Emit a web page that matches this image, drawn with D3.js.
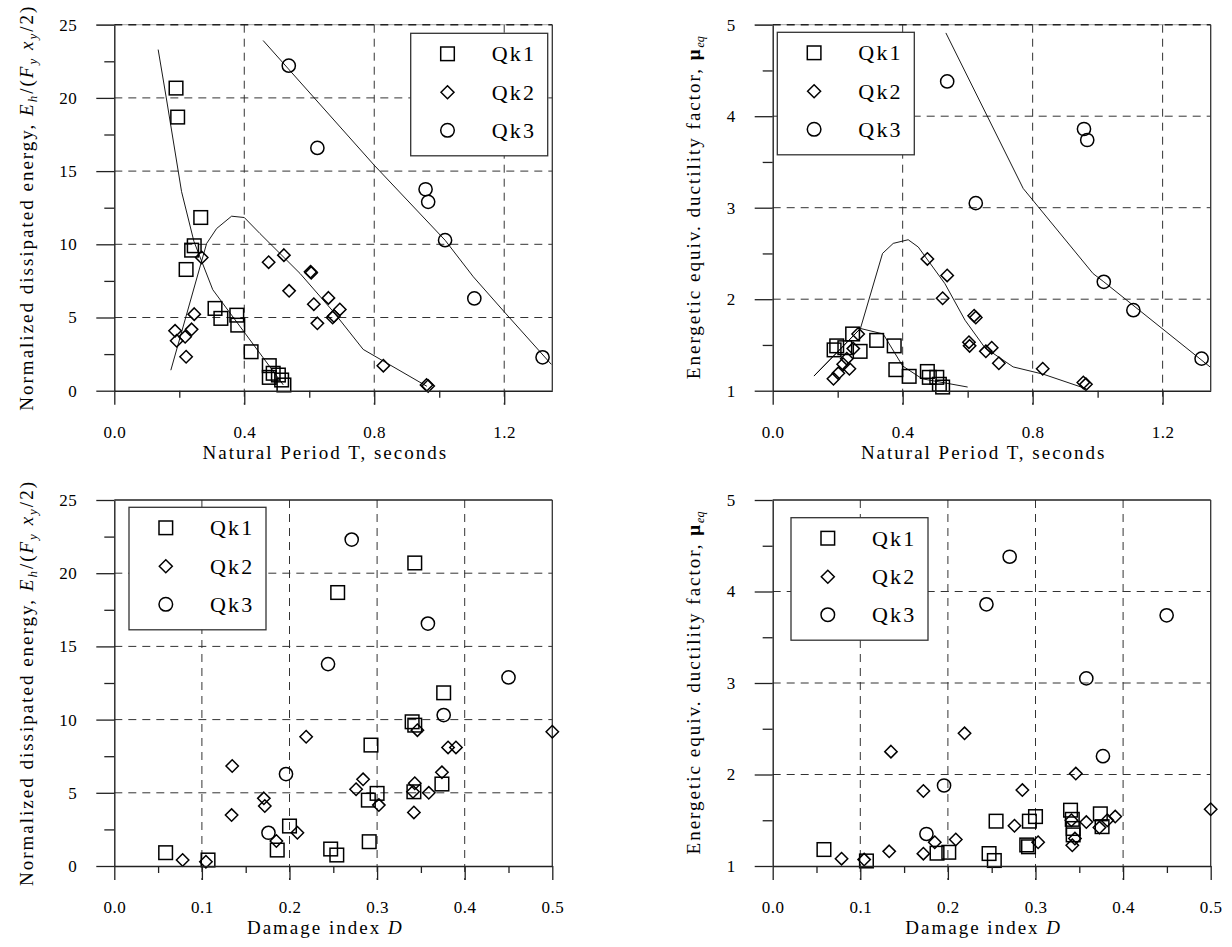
<!DOCTYPE html>
<html><head><meta charset="utf-8">
<script src="https://cdn.jsdelivr.net/npm/d3@7"></script>
<style>
body{margin:0;background:#fff}
svg{display:block}
text{font-family:"Liberation Serif","Times New Roman",serif;fill:#000}
</style>
</head><body>
<svg id="chart" width="1232" height="947"></svg>
<script>
// ---------------- data ----------------
const seriesNames = ["Qk1", "Qk2", "Qk3"];

// Panel A: natural period T vs normalized dissipated energy
const periodEnergyQk1 = [[0.190,20.67],[0.195,18.69],[0.266,11.83],[0.246,9.9],[0.238,9.6],[0.221,8.28],[0.310,5.62],[0.328,4.94],[0.377,5.16],[0.380,4.48],[0.421,2.66],[0.477,1.71],[0.477,0.91],[0.489,1.19],[0.505,1.07],[0.515,0.73],[0.522,0.39]];
const periodEnergyQk2 = [[0.269,9.10],[0.246,5.23],[0.238,4.19],[0.187,4.09],[0.192,3.41],[0.218,3.68],[0.221,2.32],[0.475,8.78],[0.522,9.26],[0.538,6.82],[0.604,8.12],[0.606,8.05],[0.614,5.91],[0.625,4.60],[0.659,6.34],[0.672,5.0],[0.676,5.1],[0.694,5.55],[0.828,1.71],[0.961,0.39],[0.966,0.32]];
const periodEnergyQk3 = [[0.537,22.2],[0.625,16.58],[0.958,13.76],[0.966,12.9],[1.018,10.28],[1.108,6.30],[1.318,2.28]];
const periodEnergyFitQk1 = [[0.135,23.3],[0.16,20.0],[0.207,13.6],[0.245,10.2],[0.303,6.9],[0.52,0.4]];
const periodEnergyFitQk2 = [[0.174,1.4],[0.284,10.05],[0.315,11.08],[0.361,11.92],[0.40,11.83],[0.448,10.74],[0.572,8.0],[0.674,5.4],[0.766,2.82],[0.962,0.3]];
const periodEnergyFitQk3 = [[0.458,23.92],[0.80,15.4],[1.018,10.28],[1.105,7.78],[1.2,5.39],[1.345,1.8]];

// Panel B: natural period T vs energetic equivalent ductility factor
const periodDuctQk1 = [[0.189,1.446],[0.197,1.49],[0.222,1.47],[0.246,1.62],[0.269,1.43],[0.32,1.55],[0.374,1.49],[0.379,1.23],[0.42,1.157],[0.476,1.21],[0.482,1.146],[0.505,1.146],[0.513,1.07],[0.523,1.04]];
const periodDuctQk2 = [[0.187,1.13],[0.202,1.19],[0.217,1.29],[0.228,1.35],[0.236,1.24],[0.248,1.46],[0.263,1.62],[0.476,2.44],[0.537,2.26],[0.523,2.01],[0.620,1.82],[0.625,1.80],[0.604,1.53],[0.606,1.49],[0.674,1.47],[0.656,1.43],[0.696,1.30],[0.831,1.24],[0.956,1.09],[0.964,1.07]];
const periodDuctQk3 = [[0.537,4.38],[0.625,3.05],[0.958,3.86],[0.968,3.74],[1.019,2.19],[1.11,1.88],[1.32,1.35]];
const periodDuctFitQk1 = [[0.127,1.16],[0.27,1.68],[0.34,1.62],[0.40,1.27],[0.46,1.13],[0.60,1.04]];
const periodDuctFitQk2 = [[0.127,1.16],[0.27,1.68],[0.338,2.5],[0.371,2.61],[0.417,2.65],[0.448,2.57],[0.53,2.17],[0.592,1.77],[0.653,1.47],[0.74,1.26],[0.833,1.18],[0.966,1.02]];
const periodDuctFitQk3 = [[0.533,4.91],[0.771,3.21],[0.986,2.28],[1.019,2.19],[1.346,1.26]];

// Panel C: damage index D vs normalized dissipated energy
const damageEnergyQk1 = [[0.0586,0.91],[0.107,0.41],[0.186,1.09],[0.200,2.73],[0.343,20.7],[0.255,18.68],[0.376,11.83],[0.340,9.85],[0.343,9.62],[0.293,8.26],[0.300,4.96],[0.290,4.5],[0.342,5.07],[0.374,5.6],[0.291,1.66],[0.247,1.16],[0.254,0.75]];
const damageEnergyQk2 = [[0.078,0.41],[0.1046,0.29],[0.1346,6.83],[0.1339,3.48],[0.1707,4.62],[0.1718,4.1],[0.185,1.71],[0.209,2.27],[0.219,8.83],[0.284,5.92],[0.276,5.24],[0.302,4.16],[0.343,5.65],[0.341,5.07],[0.342,3.66],[0.346,9.28],[0.359,5.0],[0.374,6.40],[0.381,8.10],[0.390,8.10],[0.5,9.17]];
const damageEnergyQk3 = [[0.176,2.27],[0.196,6.28],[0.271,22.3],[0.358,16.56],[0.244,13.79],[0.450,12.88],[0.376,10.31]];

// Panel D: damage index D vs energetic equivalent ductility factor
const damageDuctQk1 = [[0.0585,1.18],[0.107,1.055],[0.1876,1.14],[0.201,1.15],[0.255,1.49],[0.247,1.136],[0.253,1.06],[0.293,1.49],[0.300,1.54],[0.290,1.23],[0.292,1.21],[0.340,1.61],[0.342,1.51],[0.343,1.41],[0.343,1.34],[0.374,1.57],[0.376,1.43]];
const damageDuctQk2 = [[0.0786,1.08],[0.1044,1.07],[0.133,1.16],[0.135,2.25],[0.172,1.82],[0.172,1.135],[0.185,1.26],[0.209,1.29],[0.219,2.45],[0.285,1.83],[0.276,1.44],[0.303,1.26],[0.346,2.01],[0.341,1.50],[0.342,1.226],[0.345,1.30],[0.358,1.48],[0.373,1.42],[0.382,1.50],[0.391,1.54],[0.5,1.62]];
const damageDuctQk3 = [[0.1755,1.35],[0.1956,1.88],[0.2705,4.38],[0.244,3.86],[0.4497,3.74],[0.358,3.05],[0.377,2.20]];

// ticks
const periodTicks = [0, 0.4, 0.8, 1.2];
const periodMinor = [0.2, 0.6, 1.0];
const periodGrid = [0.4, 0.8, 1.2];
const damageTicks = [0, 0.1, 0.2, 0.3, 0.4, 0.5];
const damageMinor = [0.05, 0.15, 0.25, 0.35, 0.45];
const damageGrid = [0.1, 0.2, 0.3, 0.4];
const energyTicks = [0, 5, 10, 15, 20, 25];
const energyMinor = [2.5, 7.5, 12.5, 17.5, 22.5];
const energyGrid = [5, 10, 15, 20];
const ductTicks = [1, 2, 3, 4, 5];
const ductMinor = [1.5, 2.5, 3.5, 4.5];
const ductGrid = [2, 3, 4];

// ---------------- drawing ----------------
const svg = d3.select("#chart");
const W = 438, H = 366;

function panel(o) {
  const g = svg.append("g");
  const x = d3.scaleLinear().domain(o.xDomain).range([o.x0, o.x0 + W]);
  const y = d3.scaleLinear().domain(o.yDomain).range([o.y0 + H, o.y0]);
  const gridStyle = s => s.attr("stroke", "#333").attr("stroke-width", 1).attr("stroke-dasharray", "8,6").attr("fill", "none");

  // grid
  g.selectAll(".hg").data(o.yGrid).join("line")
    .attr("x1", o.x0).attr("x2", o.x0 + W).attr("y1", d => y(d)).attr("y2", d => y(d)).call(gridStyle);
  g.selectAll(".vg").data(o.xGrid).join("line")
    .attr("x1", d => x(d)).attr("x2", d => x(d)).attr("y1", o.y0).attr("y2", o.y0 + H + 14).call(gridStyle);

  // top & right border
  const top = o.yDomain[1];
  if (o.topDashed) {
    g.append("line").attr("x1", o.x0 - 18).attr("x2", o.x0 + W).attr("y1", y(top)).attr("y2", y(top))
      .attr("stroke", "#888").attr("stroke-width", 0.8);
    g.append("line").attr("x1", o.x0).attr("x2", o.x0 + W).attr("y1", y(top)).attr("y2", y(top))
      .attr("stroke", "#222").attr("stroke-width", 1.4).attr("stroke-dasharray", "8,6");
  } else {
    g.append("line").attr("x1", o.x0).attr("x2", o.x0 + W).attr("y1", y(top)).attr("y2", y(top))
      .attr("stroke", "#222").attr("stroke-width", 1.3);
  }
  g.append("line").attr("x1", x(o.xDomain[1])).attr("x2", x(o.xDomain[1])).attr("y1", o.y0).attr("y2", o.y0 + H)
    .attr("stroke", "#333").attr("stroke-width", 1.3);

  // fitted lines
  const line = d3.line().x(d => x(d[0])).y(d => y(d[1]));
  (o.fits || []).forEach(f => {
    g.append("path").attr("d", line(f)).attr("fill", "none").attr("stroke", "#000").attr("stroke-width", 0.9);
  });

  // symbols
  const sw = 1.5;
  g.selectAll(".sq").data(o.series[0]).join("rect")
    .attr("x", d => x(d[0]) - 6.8).attr("y", d => y(d[1]) - 6.8).attr("width", 13.6).attr("height", 13.6)
    .attr("fill", "none").attr("stroke", "#000").attr("stroke-width", sw);
  g.selectAll(".dm").data(o.series[1]).join("path")
    .attr("d", d => { const cx = x(d[0]), cy = y(d[1]), r = 6.2; return `M${cx},${cy - r}L${cx + r},${cy}L${cx},${cy + r}L${cx - r},${cy}Z`; })
    .attr("fill", "none").attr("stroke", "#000").attr("stroke-width", sw);
  g.selectAll(".ci").data(o.series[2]).join("circle")
    .attr("cx", d => x(d[0])).attr("cy", d => y(d[1])).attr("r", 6.6)
    .attr("fill", "none").attr("stroke", "#000").attr("stroke-width", sw);

  // legend
  const lx = o.x0 + o.legend[0], ly = o.y0 + o.legend[1];
  const lg = g.append("g");
  lg.append("rect").attr("x", lx).attr("y", ly).attr("width", 137).attr("height", 122.5)
    .attr("fill", "#fff").attr("stroke", "#333").attr("stroke-width", 1.3);
  const rows = [20.5, 59, 97];
  seriesNames.forEach((name, i) => {
    const cx = lx + 36.8, cy = ly + rows[i];
    if (i === 0) lg.append("rect").attr("x", cx - 6.8).attr("y", cy - 6.8).attr("width", 13.6).attr("height", 13.6)
      .attr("fill", "none").attr("stroke", "#000").attr("stroke-width", sw);
    if (i === 1) { const r = 6.5; lg.append("path").attr("d", `M${cx},${cy - r}L${cx + r},${cy}L${cx},${cy + r}L${cx - r},${cy}Z`)
      .attr("fill", "none").attr("stroke", "#000").attr("stroke-width", sw); }
    if (i === 2) lg.append("circle").attr("cx", cx).attr("cy", cy).attr("r", 6.8)
      .attr("fill", "none").attr("stroke", "#000").attr("stroke-width", sw);
    lg.append("text").attr("x", lx + 81).attr("y", cy).attr("dy", "0.34em")
      .attr("font-size", 22).attr("letter-spacing", 2.2).text(name);
  });

  // axes
  const styleAxis = a => {
    a.selectAll("path.domain").attr("stroke", "#222").attr("stroke-width", 1.4);
    a.selectAll(".tick line").attr("stroke", "#222").attr("stroke-width", 1.3);
    a.selectAll(".tick text").attr("font-family", "Liberation Serif, Times New Roman, serif")
      .attr("font-size", 17).attr("letter-spacing", 0.5).attr("fill", "#000");
  };
  const xa = g.append("g").attr("transform", `translate(0,${o.y0 + H})`)
    .call(d3.axisBottom(x).tickValues(o.xTicks).tickSize(14).tickSizeOuter(0).tickPadding(21).tickFormat(d3.format(".1f")));
  styleAxis(xa);
  const xm = g.append("g").attr("transform", `translate(0,${o.y0 + H})`)
    .call(d3.axisBottom(x).tickValues(o.xMinor).tickSize(7).tickSizeOuter(0).tickFormat(""));
  styleAxis(xm); xm.select("path.domain").remove();
  const ya = g.append("g").attr("transform", `translate(${o.x0},0)`)
    .call(d3.axisLeft(y).tickValues(o.yTicks).tickSize(18).tickSizeOuter(0).tickPadding(19).tickFormat(d3.format("d")));
  styleAxis(ya);
  const ym = g.append("g").attr("transform", `translate(${o.x0},0)`)
    .call(d3.axisLeft(y).tickValues(o.yMinor).tickSize(10).tickSizeOuter(0).tickFormat(""));
  styleAxis(ym); ym.select("path.domain").remove();

  // x title
  const xt = g.append("text").attr("x", o.x0 + W / 2 - 8).attr("y", o.y0 + H + 68)
    .attr("text-anchor", "middle").attr("font-size", 19).attr("letter-spacing", 2);
  o.xTitle(xt);

  // y title
  const yt = g.append("text")
    .attr("transform", `translate(${o.yTitleX},${o.y0 + H / 2}) rotate(-90)`)
    .attr("text-anchor", "middle").attr("font-size", 19).attr("letter-spacing", 2);
  o.yTitle(yt);
}

const periodTitle = t => t.text("Natural Period T, seconds");
const damageTitle = t => { t.append("tspan").text("Damage index "); t.append("tspan").attr("font-style", "italic").text("D"); };
const energyTitle = t => {
  t.append("tspan").text("Normalized dissipated energy, ");
  t.append("tspan").attr("font-style", "italic").text("E");
  t.append("tspan").attr("font-style", "italic").attr("font-size", 13).attr("dy", 4).text("h");
  t.append("tspan").attr("dy", -4).text("/(");
  t.append("tspan").attr("font-style", "italic").text("F");
  t.append("tspan").attr("font-style", "italic").attr("font-size", 13).attr("dy", 4).text("y");
  t.append("tspan").attr("dy", -4).attr("font-style", "italic").text(" x");
  t.append("tspan").attr("font-style", "italic").attr("font-size", 13).attr("dy", 4).text("y");
  t.append("tspan").attr("dy", -4).text("/2)");
};
const ductTitle = t => {
  t.append("tspan").text("Energetic equiv. ductility factor, ");
  t.append("tspan").attr("font-weight", "bold").text("μ");
  t.append("tspan").attr("font-style", "italic").attr("font-size", 12).attr("dy", 4).attr("letter-spacing", 0).text("eq");
};

panel({ x0: 114.3, y0: 24.7, xDomain: [0, 1.348], yDomain: [0, 25],
  xTicks: periodTicks, xMinor: periodMinor, xGrid: periodGrid,
  yTicks: energyTicks, yMinor: energyMinor, yGrid: energyGrid, topDashed: true,
  series: [periodEnergyQk1, periodEnergyQk2, periodEnergyQk3],
  fits: [periodEnergyFitQk1, periodEnergyFitQk2, periodEnergyFitQk3],
  legend: [296.4, 8.6], xTitle: periodTitle, yTitle: energyTitle, yTitleX: 32.5 });

panel({ x0: 772.7, y0: 24.7, xDomain: [0, 1.348], yDomain: [1, 5],
  xTicks: periodTicks, xMinor: periodMinor, xGrid: periodGrid,
  yTicks: ductTicks, yMinor: ductMinor, yGrid: ductGrid, topDashed: true,
  series: [periodDuctQk1, periodDuctQk2, periodDuctQk3],
  fits: [periodDuctFitQk1, periodDuctFitQk2, periodDuctFitQk3],
  legend: [4.6, 7.6], xTitle: periodTitle, yTitle: ductTitle, yTitleX: 700 });

panel({ x0: 114.3, y0: 500, xDomain: [0, 0.5], yDomain: [0, 25],
  xTicks: damageTicks, xMinor: damageMinor, xGrid: damageGrid,
  yTicks: energyTicks, yMinor: energyMinor, yGrid: energyGrid, topDashed: false,
  series: [damageEnergyQk1, damageEnergyQk2, damageEnergyQk3],
  legend: [14.7, 7.3], xTitle: damageTitle, yTitle: energyTitle, yTitleX: 32.5 });

panel({ x0: 772.7, y0: 500, xDomain: [0, 0.5], yDomain: [1, 5],
  xTicks: damageTicks, xMinor: damageMinor, xGrid: damageGrid,
  yTicks: ductTicks, yMinor: ductMinor, yGrid: ductGrid, topDashed: false,
  series: [damageDuctQk1, damageDuctQk2, damageDuctQk3],
  legend: [18.3, 17.7], xTitle: damageTitle, yTitle: ductTitle, yTitleX: 700 });
</script>
</body></html>
